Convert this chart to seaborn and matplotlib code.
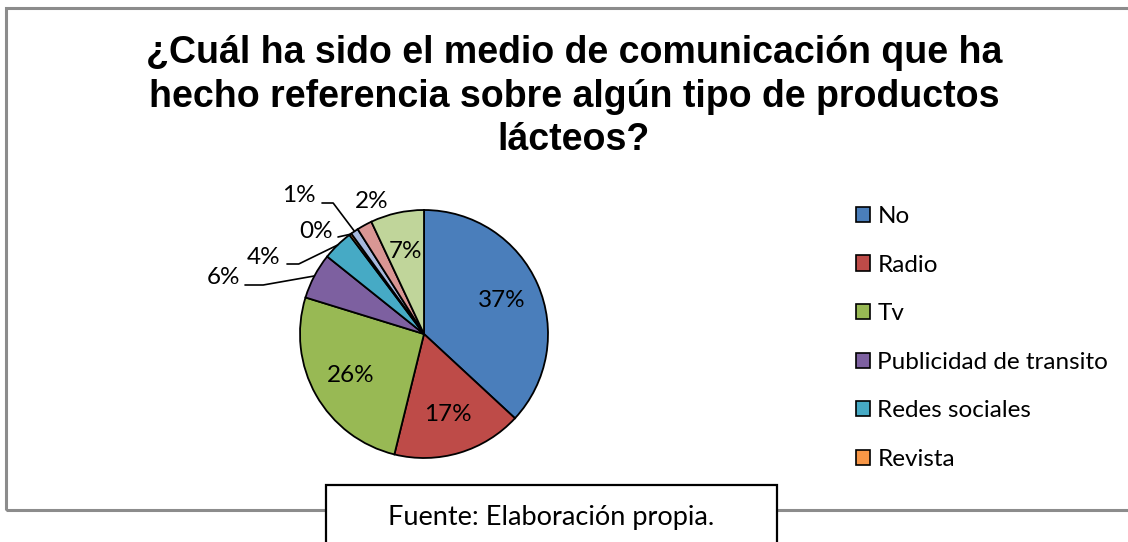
import matplotlib.pyplot as plt
import matplotlib.patches as mpatches
import numpy as np
import seaborn as sns

# data (percent of respondents)
categories = ["No", "Radio", "Tv", "Publicidad de transito", "Redes sociales",
              "Revista", "Otro 1", "Otro 2", "Otro 3"]
values = [37, 17, 26, 6, 4, 0.3, 1, 2, 7]
pct_labels = ["37%", "17%", "26%", "6%", "4%", "0%", "1%", "2%", "7%"]
legend_shown = 6  # Excel only shows the first six legend entries

colors = sns.color_palette(["#4A7EBB", "#BE4B48", "#98B954", "#7D60A0", "#46AAC5",
                            "#F79646", "#A5B8DD", "#D99694", "#C0D59A"])

sns.set_theme(style="white")
plt.rcParams["font.family"] = ["Lato", "DejaVu Sans"]
plt.rcParams["text.color"] = "black"

W, H = 1128, 542
fig = plt.figure(figsize=(W / 100, H / 100), dpi=100)

# outer chart frame
fig.patches.append(mpatches.Rectangle((6 / W, 1 - 510 / H), 1.2, (510 - 8) / H,
                                      transform=fig.transFigure, fill=False,
                                      edgecolor="#8c8c8c", lw=2.2))

fig.text(574 / W, 1 - 35 / H,
         "¿Cuál ha sido el medio de comunicación que ha\n"
         "hecho referencia sobre algún tipo de productos\nlácteos?",
         ha="center", va="top", fontsize=27, fontweight="bold",
         family="Liberation Sans", linespacing=1.27)

# pie axes: centre (424, 334) px, radius 124 px
cx, cy, R, half = 424, 334, 124, 250
ax = fig.add_axes([(cx - half) / W, (H - cy - half) / H, 2 * half / W, 2 * half / H])

wedges, _ = ax.pie(values, colors=colors, startangle=90, counterclock=False,
                   wedgeprops=dict(edgecolor="black", linewidth=1.3))
ax.set_xlim(-half / R, half / R)
ax.set_ylim(-half / R, half / R)
ax.set_aspect("equal")
ax.axis("off")


def px(x, y):
    return ((x - cx) / R, (cy - y) / R)


# labels inside the large slices
for i in [0, 1, 2, 8]:
    w = wedges[i]
    a = np.deg2rad((w.theta1 + w.theta2) / 2)
    ax.text(0.68 * np.cos(a), 0.68 * np.sin(a), pct_labels[i], ha="center",
            va="center", fontsize=17.5)

# outside labels with leader lines: (index, text px, line start px, slant angle)
outside = [(3, (224, 277), (245, 285), 10),
           (4, (264, 258), (287, 264), 26),
           (5, (316, 232), (338, 237), None),
           (6, (299, 196), (322, 203), -53),
           (7, (372, 202), None, None)]
for i, tpos, lstart, ang in outside:
    ax.text(*px(*tpos), pct_labels[i], ha="center", va="center", fontsize=17.5)
    if lstart is None:
        continue
    w = wedges[i]
    a = np.deg2rad((w.theta1 + w.theta2) / 2)
    tip = (np.cos(a), np.sin(a))
    cs = "arc3" if ang is None else f"angle,angleA=0,angleB={ang},rad=0"
    ax.annotate("", xy=tip, xytext=px(*lstart),
                arrowprops=dict(arrowstyle="-", color="black", lw=1.2,
                                shrinkA=0, shrinkB=0, connectionstyle=cs))

# legend (first six categories only)
handles = [mpatches.Patch(facecolor=colors[i], edgecolor="black", lw=1.2)
           for i in range(legend_shown)]
fig.legend(handles, categories[:legend_shown], loc="upper left",
           bbox_to_anchor=(856 / W, 1 - 206 / H), frameon=False, fontsize=17.5,
           handlelength=0.58, handleheight=0.58, handletextpad=0.3,
           labelspacing=1.135, borderpad=0, borderaxespad=0)

# source box
fig.patches.append(mpatches.Rectangle((326 / W, -0.05), (777 - 326) / W,
                                      0.05 + (H - 485) / H,
                                      transform=fig.transFigure, facecolor="white",
                                      edgecolor="black", lw=1.6, zorder=5))
fig.text(551 / W, 1 - 517 / H, "Fuente: Elaboración propia.", ha="center",
         va="center", fontsize=19.5, zorder=6)

fig.savefig("out.png", dpi=100)
